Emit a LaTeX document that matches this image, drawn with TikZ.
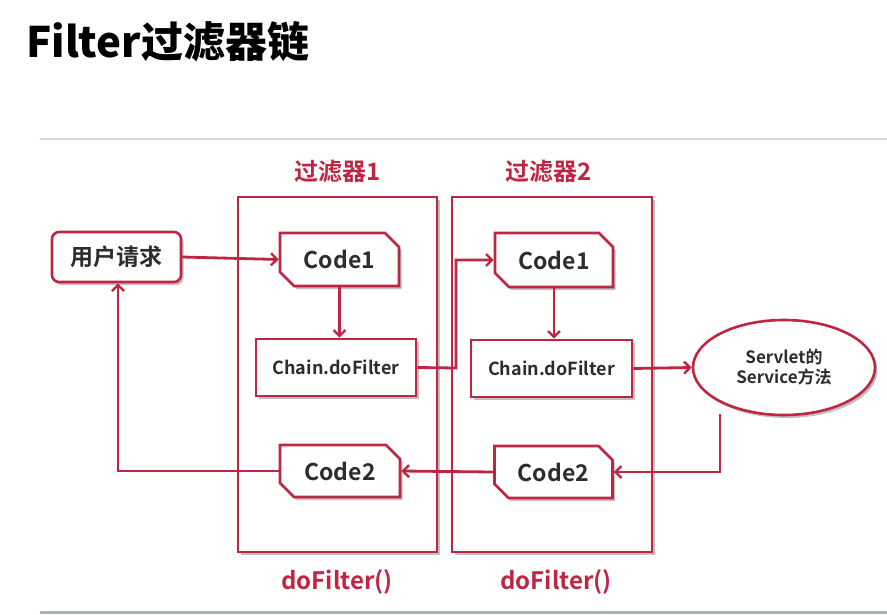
\documentclass[tikz,border=0pt]{standalone}
\usepackage{fontspec}
\setmainfont{Noto Sans CJK SC}[BoldFont={Noto Sans CJK SC Bold}]
\newfontfamily\titlefont{Noto Sans CJK SC Black}
\usetikzlibrary{shapes.misc,shapes.geometric,arrows.meta,shadows}
\definecolor{crim}{RGB}{190,38,68}
\definecolor{txt}{RGB}{45,45,45}
\tikzset{
  shd/.style={drop shadow={shadow xshift=2.5pt,shadow yshift=-3pt,fill=black!45,opacity=0.55}},
  filterbox/.style={draw=crim,line width=2.6pt,fill=white,shd,minimum width=#1,minimum height=355pt,inner sep=0pt},
  cutbox/.style={chamfered rectangle,chamfered rectangle corners={north east,south west},
     chamfered rectangle xsep=7pt,chamfered rectangle ysep=7pt,
     draw=crim,line width=2.6pt,fill=white,shd,inner sep=0pt,text=txt,font=\bfseries\fontsize{23}{26}\selectfont},
  plainbox/.style={draw=crim,line width=2.6pt,fill=white,shd,inner sep=0pt,text=txt,font=\bfseries\fontsize{18}{20}\selectfont},
  conn/.style={draw=crim,line width=2.8pt,-{Straight Barb[length=6pt,width=12pt,line width=2.4pt]}},
  redlab/.style={text=crim,font=\bfseries\fontsize{24}{26}\selectfont,inner sep=0pt},
}
\begin{document}
\begin{tikzpicture}[x=1pt,y=-1pt]
\useasboundingbox (0,0) rectangle (887,614);
\fill[white] (0,0) rectangle (887,614);
% title
\node[anchor=west,inner sep=0pt,font=\titlefont\fontsize{42}{44}\selectfont] (title) at (26,42) {Filter过滤器链};
% frame lines
\draw[line width=1.2pt,color={rgb,255:red,205;green,218;blue,230}] (40,139) -- (887,139);
\draw[line width=3pt,color={rgb,255:red,170;green,178;blue,186}] (40,612) -- (887,612);
% filter boxes
\node[filterbox=199pt] (f1) at (337.5,374.5) {};
\node[filterbox=200pt] (f2) at (552,374.5) {};
\node[redlab] (l1) at (338,171) {过滤器1};
\node[redlab] (l2) at (549,171) {过滤器2};
\node[redlab] (d1) at (337,582) {doFilter()};
\node[redlab] (d2) at (556,582) {doFilter()};
% nodes
\node[draw=crim,line width=2.6pt,fill=white,shd,rounded corners=7pt,minimum width=129pt,minimum height=50pt,text=txt,font=\bfseries\fontsize{23}{24}\selectfont] (req) at (116.5,257) {用户请求};
\node[cutbox,minimum width=119pt,minimum height=53pt] (c1a) at (339.5,259.5) {Code1};
\node[plainbox,minimum width=160pt,minimum height=57pt] (ch1) at (336,367.5) {Chain.doFilter};
\node[cutbox,minimum width=118pt,minimum height=54pt] (c1b) at (554,260) {Code1};
\node[plainbox,minimum width=161pt,minimum height=57pt] (ch2) at (551.5,368.5) {Chain.doFilter};
\node[ellipse,draw=crim,line width=2.6pt,fill=white,shd,minimum width=182pt,minimum height=95pt,inner sep=0pt,text=txt,font=\bfseries\fontsize{17}{20}\selectfont,align=center] (srv) at (784,367.5) {Servlet的\\Service方法};
\node[cutbox,minimum width=120pt,minimum height=52pt] (c2a) at (340,471) {Code2};
\node[cutbox,minimum width=118pt,minimum height=52pt] (c2b) at (553.5,472) {Code2};
% connectors
\coordinate (k1) at (456,368);
\coordinate (k2) at (456,260);
\coordinate (k3) at (720,472);
\coordinate (k4) at (118,471);
\draw[conn] (req.east) -- (c1a.west);
\draw[conn] (c1a.south) -- (ch1.north -| c1a.south);
\draw[conn] (ch1.east) -- (k1) -- (k2) -- (c1b.west);
\draw[conn] (c1b.south) -- (ch2.north -| c1b.south);
\draw[conn] (ch2.east) -- (srv.west);
\draw[conn] (srv.south -| k3) ++(0,-2) -- (k3) -- (c2b.east);
\draw[conn] (c2b.west) -- (c2a.east);
\draw[conn] (c2a.west) -- (k4) -- (req.south -| k4);
\end{tikzpicture}
\end{document}
